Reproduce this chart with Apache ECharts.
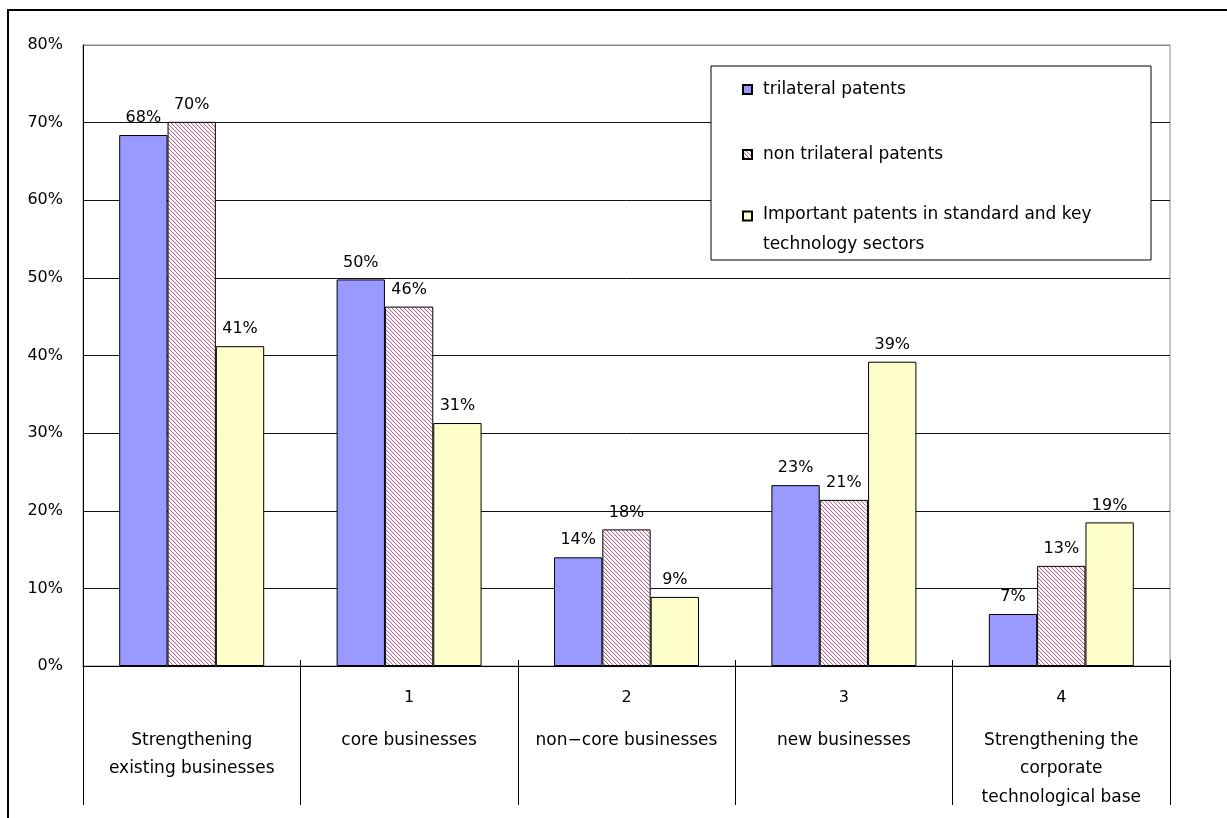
<!DOCTYPE html>
<html>
<head>
<meta charset="utf-8">
<script src="https://cdn.jsdelivr.net/npm/echarts@6/dist/echarts.min.js"></script>
<style>
  html, body { margin: 0; padding: 0; background: #fff; }
  #wrap { position: relative; width: 1227px; height: 818px; overflow: hidden; }
  #chart { position: absolute; left: 0; top: 0; width: 1227px; height: 818px; }
  #frame { position: absolute; left: 7px; top: 9px; width: 1240px; height: 830px;
           border-left: 2px solid #000; border-top: 2px solid #000; pointer-events: none; }
</style>
</head>
<body>
<div id="wrap">
  <div id="chart"></div>
  <div id="frame"></div>
</div>
<script>
// Purposes of patent use, share of respondents (%)
const catNumbers = ['', '1', '2', '3', '4'];
const catNames = [
  ['Strengthening', 'existing businesses'],
  ['core businesses'],
  ['non\u2212core businesses'],
  ['new businesses'],
  ['Strengthening the', 'corporate', 'technological base']
];
const seriesNames = [
  'trilateral patents',
  'non trilateral patents',
  'Important patents in standard and key\ntechnology sectors'
];
const trilateral    = [68.4, 49.8, 14.0, 23.3, 6.7];
const nonTrilateral = [70.1, 46.3, 17.6, 21.4, 12.9];
const important     = [41.2, 31.3, 8.9, 39.2, 18.5];

const FONT = "'DejaVu Sans', 'Noto Sans', sans-serif";
const NUM_SIZE = 16;
const TEXT_SIZE = 17;

// Legend swatches: a 9px square inside a 9x37 box, either centred
// (single-line entries) or at the top (the two-line entry).
const ICON_MID = 'path://M0 14H9V23H0Z M0 0 M9 37';
const ICON_TOP = 'path://M0 0H9V9H0Z M0 0 M9 37';

// Downward diagonal hatch used for the second series
function hatchTile() {
  const c = document.createElement('canvas');
  c.width = 8; c.height = 8;
  const ctx = c.getContext('2d');
  const img = ctx.createImageData(8, 8);
  for (let y = 0; y < 8; y++) {
    for (let x = 0; x < 8; x++) {
      const k = ((x - y) % 4 + 4) % 4;
      let r = 255, g = 255, b = 255;
      if (k === 0) { r = 0xBC; g = 0x6A; b = 0x93; }
      else if (k === 1) { r = 0xF2; g = 0xE0; b = 0xE9; }
      const i = (y * 8 + x) * 4;
      img.data[i] = r; img.data[i + 1] = g; img.data[i + 2] = b; img.data[i + 3] = 255;
    }
  }
  ctx.putImageData(img, 0, 0);
  return c;
}

const chart = echarts.init(document.getElementById('chart'), null, { renderer: 'canvas' });

const labelCfg = {
  show: true,
  position: 'top',
  distance: 9,
  color: '#000',
  fontFamily: FONT,
  fontSize: NUM_SIZE,
  formatter: p => Math.round(p.value) + '%'
};
const barBorder = { borderColor: '#000', borderWidth: 1 };

function catLabel(i) {
  const num = catNumbers[i] === '' ? ' ' : catNumbers[i];
  return ['{n|' + num + '}'].concat(catNames[i].map(s => '{t|' + s + '}')).join('\n');
}

chart.setOption({
  animation: false,
  backgroundColor: '#fff',
  textStyle: { fontFamily: FONT },
  grid: {
    left: 83, right: 57, top: 45, bottom: 152,
    show: true, borderColor: '#888', borderWidth: 1, backgroundColor: 'transparent',
    outerBoundsMode: 'none', containLabel: false
  },
  legend: {
    orient: 'vertical',
    left: 711, top: 66,
    padding: [4, 18, 0, 31],
    itemGap: 26,
    itemWidth: 9, itemHeight: 37,
    symbolKeepAspect: true,
    backgroundColor: '#fff',
    borderColor: '#000',
    borderWidth: 1,
    borderRadius: 0,
    selectedMode: false,
    textStyle: {
      fontFamily: FONT, fontSize: TEXT_SIZE, color: '#000',
      lineHeight: 30, padding: [0, 0, 0, 6], width: 370
    },
    data: [
      { name: seriesNames[0], icon: ICON_MID },
      { name: seriesNames[1], icon: ICON_MID },
      { name: seriesNames[2], icon: ICON_TOP }
    ]
  },
  xAxis: [{
    type: 'category',
    data: catNumbers.map((n, i) => catLabel(i)),
    position: 'bottom',
    axisLine: { show: true, lineStyle: { color: '#000', width: 1 } },
    axisTick: { show: true, interval: 0, inside: false, length: 139, lineStyle: { color: '#000', width: 1 } },
    axisLabel: {
      interval: 0,
      margin: 4,
      color: '#000',
      fontFamily: FONT,
      fontSize: TEXT_SIZE,
      formatter: v => v,
      rich: {
        n: { fontFamily: FONT, fontSize: NUM_SIZE, color: '#000', lineHeight: 56 },
        t: { fontFamily: FONT, fontSize: TEXT_SIZE, color: '#000', lineHeight: 28.5 }
      }
    },
    splitLine: { show: false }
  }, {
    // short upward marks where the category dividers cross the axis
    type: 'category',
    data: catNumbers,
    position: 'bottom',
    axisLine: { show: false },
    axisTick: { show: true, interval: 0, inside: true, length: 6, lineStyle: { color: '#000', width: 1 } },
    axisLabel: { show: false },
    splitLine: { show: false }
  }],
  yAxis: {
    type: 'value',
    min: 0, max: 80, interval: 10,
    axisLine: { show: true, lineStyle: { color: '#000', width: 1 } },
    axisTick: { show: false },
    axisLabel: { color: '#000', fontFamily: FONT, fontSize: NUM_SIZE, margin: 20, formatter: '{value}%' },
    splitLine: {
      show: true,
      lineStyle: { color: ['#111', '#111', '#111', '#111', '#111', '#111', '#111', '#111', '#888'], width: 1 }
    }
  },
  series: [{
    name: seriesNames[0],
    type: 'bar',
    data: trilateral,
    barGap: '0%',
    barCategoryGap: '33.3%',
    itemStyle: Object.assign({ color: '#9999FF' }, barBorder),
    label: labelCfg
  }, {
    name: seriesNames[1],
    type: 'bar',
    data: nonTrilateral,
    barGap: '0%',
    barCategoryGap: '33.3%',
    itemStyle: Object.assign({ color: { image: hatchTile(), repeat: 'repeat' } }, barBorder),
    label: labelCfg
  }, {
    name: seriesNames[2],
    type: 'bar',
    data: important,
    barGap: '0%',
    barCategoryGap: '33.3%',
    itemStyle: Object.assign({ color: '#FFFFCC' }, barBorder),
    label: labelCfg
  }]
});
</script>
</body>
</html>
